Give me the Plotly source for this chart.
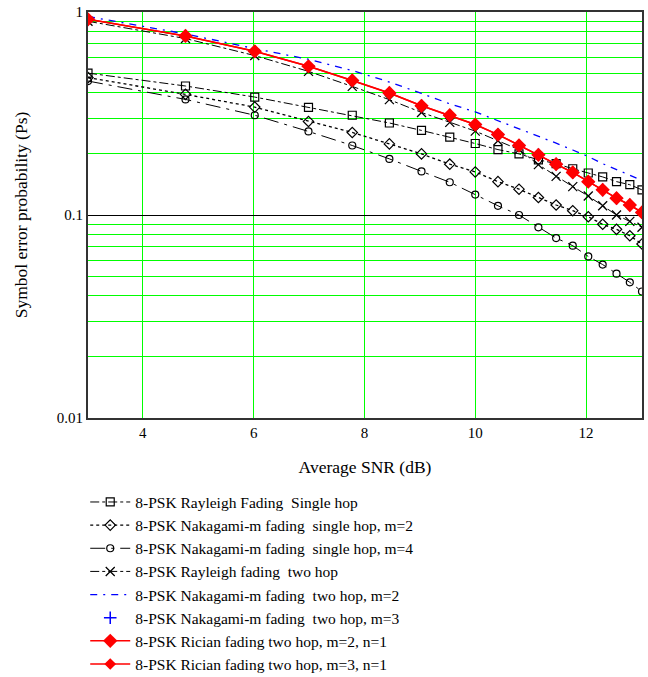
import plotly.graph_objects as go

# Average SNR (dB) sample points
snr_db = [3.01, 4.77, 6.02, 6.99, 7.78, 8.45, 9.03, 9.54, 10.0, 10.41,
          10.79, 11.14, 11.46, 11.76, 12.04, 12.30, 12.55, 12.79, 13.01]

rayleigh_single = [0.50, 0.432, 0.381, 0.339, 0.31, 0.284, 0.261, 0.242, 0.225, 0.21,
                   0.20, 0.187, 0.179, 0.169, 0.161, 0.154, 0.146, 0.141, 0.133]
nakagami_single_m2 = [0.475, 0.393, 0.34, 0.289, 0.255, 0.224, 0.20, 0.178, 0.163, 0.146,
                      0.134, 0.122, 0.112, 0.105, 0.098, 0.090, 0.085, 0.079, 0.072]
nakagami_single_m4 = [0.457, 0.371, 0.31, 0.258, 0.22, 0.189, 0.164, 0.145, 0.126, 0.111,
                      0.10, 0.087, 0.077, 0.0706, 0.0625, 0.057, 0.0514, 0.0466, 0.042]
rayleigh_two = [0.90, 0.74, 0.61, 0.51, 0.43, 0.37, 0.32, 0.286, 0.259, 0.232,
                0.21, 0.177, 0.155, 0.138, 0.124, 0.111, 0.100, 0.093, 0.087]
nakagami_two_m2 = [0.95, 0.78, 0.66, 0.585, 0.515, 0.452, 0.397, 0.353, 0.322, 0.292,
                   0.266, 0.245, 0.226, 0.209, 0.194, 0.179, 0.167, 0.156, 0.148]
nakagami_two_m3 = [0.92, 0.762, 0.64, 0.54, 0.46, 0.399, 0.345, 0.31, 0.279, 0.249,
                   0.22, 0.198, 0.178, 0.162, 0.146, 0.133, 0.121, 0.112, 0.103]
rician_two_m2 = [0.92, 0.762, 0.64, 0.54, 0.46, 0.399, 0.345, 0.31, 0.279, 0.249,
                 0.22, 0.198, 0.178, 0.162, 0.146, 0.133, 0.121, 0.112, 0.103]
rician_two_m3 = [0.92, 0.762, 0.64, 0.54, 0.46, 0.399, 0.345, 0.31, 0.279, 0.249,
                 0.22, 0.198, 0.178, 0.162, 0.146, 0.133, 0.121, 0.112, 0.103]

NB = "\u00a0"
labels = [
    "8-PSK Rayleigh Fading" + NB + " Single hop",
    "8-PSK Nakagami-m fading" + NB + " single hop, m=2",
    "8-PSK Nakagami-m fading" + NB + " single hop, m=4",
    "8-PSK Rayleigh fading" + NB + " two hop",
    "8-PSK Nakagami-m fading" + NB + " two hop, m=2",
    "8-PSK Nakagami-m fading" + NB + " two hop, m=3",
    "8-PSK Rician fading two hop, m=2, n=1",
    "8-PSK Rician fading two hop, m=3, n=1",
]

fig = go.Figure()

fig.add_trace(go.Scatter(x=snr_db, y=rayleigh_single, name=labels[0], mode="lines+markers",
                         line=dict(color="black", width=1, dash="dashdot"),
                         marker=dict(symbol="square-open", size=8, color="black", line=dict(width=1.2))))
fig.add_trace(go.Scatter(x=snr_db, y=nakagami_single_m2, name=labels[1], mode="lines+markers",
                         line=dict(color="black", width=1.3, dash="dot"),
                         marker=dict(symbol="diamond-open", size=8, color="black", line=dict(width=1.2))))
fig.add_trace(go.Scatter(x=snr_db, y=nakagami_single_m4, name=labels[2], mode="lines+markers",
                         line=dict(color="black", width=1, dash="longdashdot"),
                         marker=dict(symbol="circle-open", size=7, color="black", line=dict(width=1.2))))
fig.add_trace(go.Scatter(x=snr_db, y=rayleigh_two, name=labels[3], mode="lines+markers",
                         line=dict(color="black", width=1, dash="dashdot"),
                         marker=dict(symbol="x-thin-open", size=9, color="black", line=dict(width=1.3, color="black"))))
fig.add_trace(go.Scatter(x=snr_db, y=nakagami_two_m2, name=labels[4], mode="lines",
                         line=dict(color="blue", width=1.3, dash="7px,6px,2px,6px")))
fig.add_trace(go.Scatter(x=snr_db, y=nakagami_two_m3, name=labels[5], mode="markers",
                         marker=dict(symbol="cross-thin-open", size=9, color="blue", line=dict(width=1.5, color="blue"))))
fig.add_trace(go.Scatter(x=snr_db, y=rician_two_m2, name=labels[6], mode="lines+markers",
                         line=dict(color="red", width=1.5),
                         marker=dict(symbol="diamond", size=11, color="red")))
fig.add_trace(go.Scatter(x=snr_db, y=rician_two_m3, name=labels[7], mode="lines+markers",
                         line=dict(color="red", width=1.5),
                         marker=dict(symbol="diamond", size=9, color="red")))

font_family = "Times New Roman"

fig.update_layout(
    width=648, height=677,
    margin=dict(l=88, r=6, t=12, b=259, autoexpand=False),
    plot_bgcolor="white", paper_bgcolor="white",
    font=dict(family=font_family, size=15, color="black"),
    showlegend=True,
    legend=dict(x=-0.005, y=-0.166, xanchor="left", yanchor="top",
                font=dict(family=font_family, size=15.5, color="black"),
                itemwidth=40, tracegroupgap=0, bgcolor="rgba(0,0,0,0)"),
)

fig.update_xaxes(
    range=[3.01, 13.01], tickvals=[4, 6, 8, 10, 12], ticks="",
    showgrid=True, gridcolor="#00ff00", gridwidth=1.3,
    showline=True, linecolor="#333333", linewidth=2, mirror=True, zeroline=False,
    tickfont=dict(family=font_family, size=15),
    title=dict(text="Average SNR (dB)", standoff=21, font=dict(family=font_family, size=17.5)),
)
fig.update_yaxes(
    type="log", range=[-2, 0], tickvals=[0.01, 0.1, 1], ticktext=["0.01", "0.1", "1"], ticks="",
    showgrid=True, gridcolor="black", gridwidth=1,
    minor=dict(dtick="D1", showgrid=True, gridcolor="#00ff00", gridwidth=1.3, ticks=""),
    showline=True, linecolor="#333333", linewidth=2, mirror=True, zeroline=False,
    tickfont=dict(family=font_family, size=15),
    title=dict(text="Symbol error probability (Ps)", standoff=25, font=dict(family=font_family, size=17.5)),
)

fig.write_html("out.html")
